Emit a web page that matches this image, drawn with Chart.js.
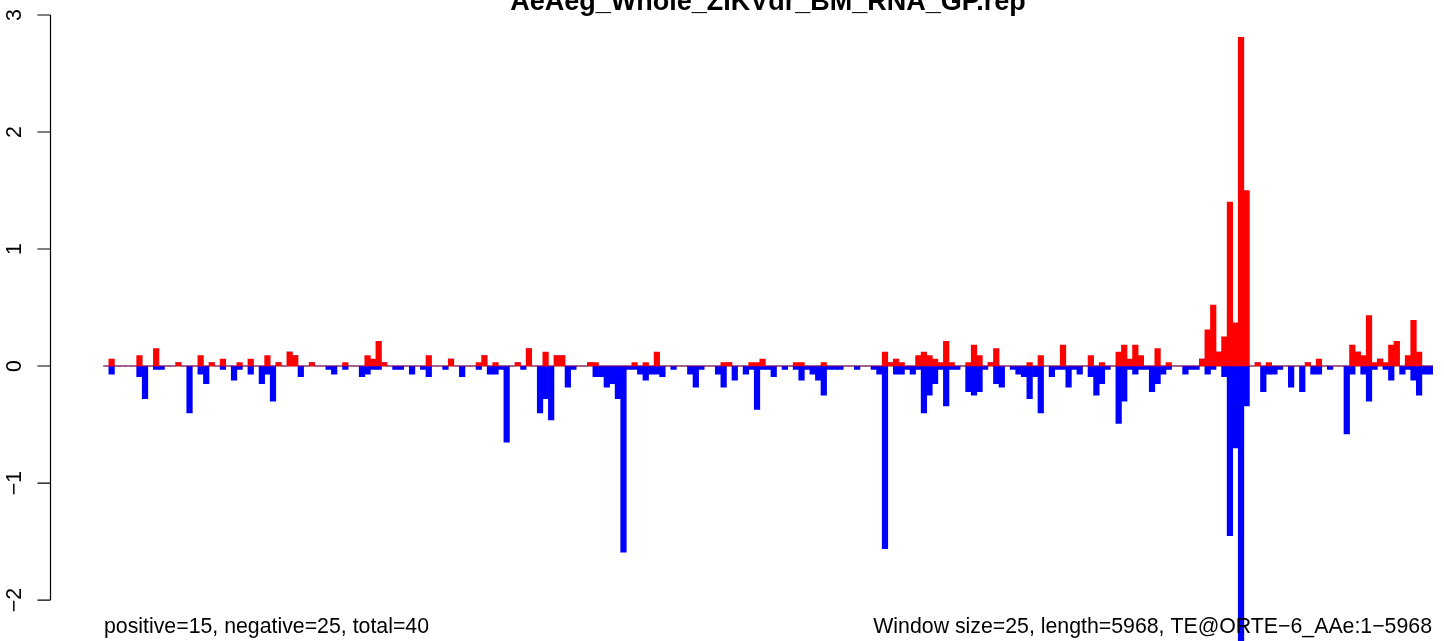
<!DOCTYPE html>
<html lang="en">
<head>
<meta charset="utf-8">
<title>AeAeg_Whole_ZIKVdr_BM_RNA_GP.rep</title>
<script src="https://cdn.jsdelivr.net/npm/chart.js@4.4.1/dist/chart.umd.min.js"></script>
<style>
  html, body { margin: 0; padding: 0; background: #fff; }
  #wrap { width: 1444px; height: 641px; }
  canvas { display: block; }
</style>
</head>
<body>
<div id="wrap"><canvas id="chart" width="1444" height="641"></canvas></div>
<script>
const chartTitle = "AeAeg_Whole_ZIKVdr_BM_RNA_GP.rep";
const leftNote = "positive=15, negative=25, total=40";
const rightNote = "Window size=25, length=5968, TE@ORTE\u22126_AAe:1\u22125968";

const windowSize = 25;
const windowCount = 239;

const yTicks = [3, 2, 1, 0, -1, -2];
const yTickLabels = ["3", "2", "1", "0", "\u22121", "\u22122"];

// red bars, one per 25bp window
const positive = [
  0, 0.06, 0, 0, 0, 0, 0.09, 0, 0, 0.15,
  0, 0, 0, 0.03, 0, 0, 0, 0.09, 0, 0.03,
  0, 0.06, 0, 0, 0.03, 0, 0.06, 0, 0, 0.09,
  0, 0.03, 0, 0.12, 0.09, 0, 0, 0.03, 0, 0,
  0, 0, 0, 0.03, 0, 0, 0, 0.09, 0.06, 0.21,
  0.03, 0, 0, 0, 0, 0, 0, 0, 0.09, 0,
  0, 0, 0.06, 0, 0, 0, 0, 0.03, 0.09, 0,
  0.03, 0, 0, 0, 0.03, 0, 0.15, 0, 0, 0.12,
  0, 0.09, 0.09, 0, 0, 0, 0, 0.03, 0.03, 0,
  0, 0, 0, 0, 0, 0.03, 0, 0.03, 0, 0.12,
  0, 0, 0, 0, 0, 0, 0, 0, 0, 0,
  0, 0.03, 0.03, 0, 0, 0, 0.03, 0.03, 0.06, 0,
  0, 0, 0, 0, 0.03, 0.03, 0, 0, 0, 0.03,
  0, 0, 0, 0, 0, 0, 0, 0, 0, 0,
  0.12, 0.03, 0.06, 0.03, 0, 0, 0.09, 0.12, 0.09, 0.06,
  0.03, 0.21, 0.03, 0, 0, 0.03, 0.18, 0.09, 0, 0.03,
  0.15, 0, 0, 0, 0, 0, 0.03, 0, 0.09, 0,
  0, 0, 0.18, 0, 0, 0, 0, 0.09, 0, 0.03,
  0, 0, 0.12, 0.18, 0.06, 0.18, 0.09, 0, 0, 0.15,
  0, 0.03, 0, 0, 0, 0, 0, 0.06, 0.31, 0.52,
  0.12, 0.25, 1.40, 0.37, 2.81, 1.50, 0, 0.03, 0, 0.03,
  0, 0, 0, 0, 0, 0, 0.03, 0, 0.06, 0,
  0, 0, 0, 0, 0.18, 0.12, 0.09, 0.43, 0.03, 0.06,
  0.03, 0.18, 0.21, 0, 0.09, 0.39, 0.12, 0, 0
];

// blue bars
const negative = [
  0, -0.07, 0, 0, 0, 0, -0.09, -0.28, 0, -0.03,
  -0.03, 0, 0, 0, 0, -0.40, 0, -0.07, -0.15, 0,
  0, -0.03, 0, -0.12, -0.03, 0, -0.07, 0, -0.15, -0.07,
  -0.30, 0, 0, 0, 0, -0.09, 0, 0, 0, 0,
  -0.03, -0.07, 0, -0.03, 0, 0, -0.09, -0.07, -0.03, -0.03,
  0, 0, -0.03, -0.03, 0, -0.07, 0, -0.03, -0.09, 0,
  0, -0.03, 0, 0, -0.09, 0, 0, -0.03, 0, -0.07,
  -0.07, -0.03, -0.65, 0, 0, -0.03, 0, 0, -0.40, -0.28,
  -0.46, 0, 0, -0.18, -0.03, 0, 0, 0, -0.09, -0.09,
  -0.18, -0.15, -0.28, -1.59, -0.03, -0.03, -0.07, -0.12, -0.07, -0.07,
  -0.09, 0, -0.03, 0, 0, -0.07, -0.18, -0.03, 0, 0,
  -0.07, -0.18, 0, -0.12, 0, -0.07, -0.03, -0.37, -0.03, -0.03,
  -0.09, 0, -0.03, 0, -0.03, -0.12, -0.03, -0.07, -0.12, -0.25,
  -0.03, -0.03, -0.03, 0, 0, -0.03, 0, 0, -0.03, -0.07,
  -1.56, 0, -0.07, -0.07, -0.03, -0.07, -0.03, -0.40, -0.25, -0.15,
  -0.03, -0.34, -0.03, -0.03, 0, -0.22, -0.25, -0.22, -0.03, 0,
  -0.15, -0.18, 0, -0.03, -0.07, -0.09, -0.28, -0.09, -0.40, 0,
  -0.09, -0.03, -0.03, -0.18, -0.03, -0.07, 0, -0.09, -0.25, -0.15,
  -0.03, 0, -0.49, -0.30, -0.03, -0.07, -0.03, -0.03, -0.22, -0.15,
  -0.07, -0.03, 0, 0, -0.07, -0.03, -0.03, 0, -0.07, -0.03,
  0, -0.09, -1.45, -0.70, -2.40, -0.34, 0, 0, -0.22, -0.07,
  -0.07, -0.03, 0, -0.18, 0, -0.22, 0, -0.07, -0.07, 0,
  -0.03, 0, 0, -0.58, -0.07, 0, -0.07, -0.30, -0.03, 0,
  -0.03, -0.12, 0, -0.07, -0.03, -0.12, -0.25, -0.07, -0.07
];

// window start positions, used only as category labels
const windows = Array.from({ length: windowCount }, (_, i) => i * windowSize + 1);

const FONT = "'Liberation Sans', Arial, Helvetica, sans-serif";

const rDecorations = {
  id: "rDecorations",
  beforeDatasetsDraw(chart) {
    const { ctx, chartArea, scales } = chart;
    const y0 = scales.y.getPixelForValue(0);
    ctx.save();
    ctx.strokeStyle = "#9a9a9a";
    ctx.lineWidth = 1.5;
    ctx.beginPath();
    ctx.moveTo(chartArea.left, y0);
    ctx.lineTo(chartArea.right, y0);
    ctx.stroke();
    ctx.restore();
  },
  afterDraw(chart) {
    const { ctx, scales } = chart;
    const y = scales.y;
    const axisX = 50.5;

    ctx.save();
    // y axis, R style
    ctx.strokeStyle = "#000";
    ctx.lineWidth = 1.2;
    ctx.beginPath();
    ctx.moveTo(axisX, y.getPixelForValue(yTicks[0]));
    ctx.lineTo(axisX, y.getPixelForValue(yTicks[yTicks.length - 1]));
    yTicks.forEach((t) => {
      const py = y.getPixelForValue(t);
      ctx.moveTo(axisX - 13, py);
      ctx.lineTo(axisX, py);
    });
    ctx.stroke();

    ctx.fillStyle = "#000";
    ctx.font = `21.3px ${FONT}`;
    ctx.textAlign = "center";
    ctx.textBaseline = "alphabetic";
    yTicks.forEach((t, i) => {
      ctx.save();
      ctx.translate(20.5, y.getPixelForValue(t));
      ctx.rotate(-Math.PI / 2);
      ctx.fillText(yTickLabels[i], 0, 0);
      ctx.restore();
    });

    // title sits partly above the picture, like the source
    ctx.font = `bold 27px ${FONT}`;
    ctx.textAlign = "center";
    ctx.fillText(chartTitle, 768, 10);

    ctx.font = `21.3px ${FONT}`;
    ctx.textAlign = "left";
    ctx.fillText(leftNote, 104, 633);
    ctx.textAlign = "right";
    ctx.fillText(rightNote, 1432, 633);
    ctx.restore();
  }
};

new Chart(document.getElementById("chart"), {
  type: "bar",
  data: {
    labels: windows,
    datasets: [
      { label: "positive", data: positive, backgroundColor: "#ff0000" },
      { label: "negative", data: negative, backgroundColor: "#0000ff" }
    ]
  },
  options: {
    responsive: false,
    animation: false,
    devicePixelRatio: 1,
    layout: { padding: { left: 103.3, right: 11, top: 0, bottom: 0 } },
    datasets: {
      bar: { barPercentage: 1, categoryPercentage: 1, borderWidth: 0 }
    },
    scales: {
      x: { display: false, stacked: true },
      y: { display: false, stacked: true, min: -2.35, max: 3.128 }
    },
    plugins: {
      legend: { display: false },
      tooltip: { enabled: false },
      title: { display: false }
    }
  },
  plugins: [rDecorations]
});
</script>
</body>
</html>
